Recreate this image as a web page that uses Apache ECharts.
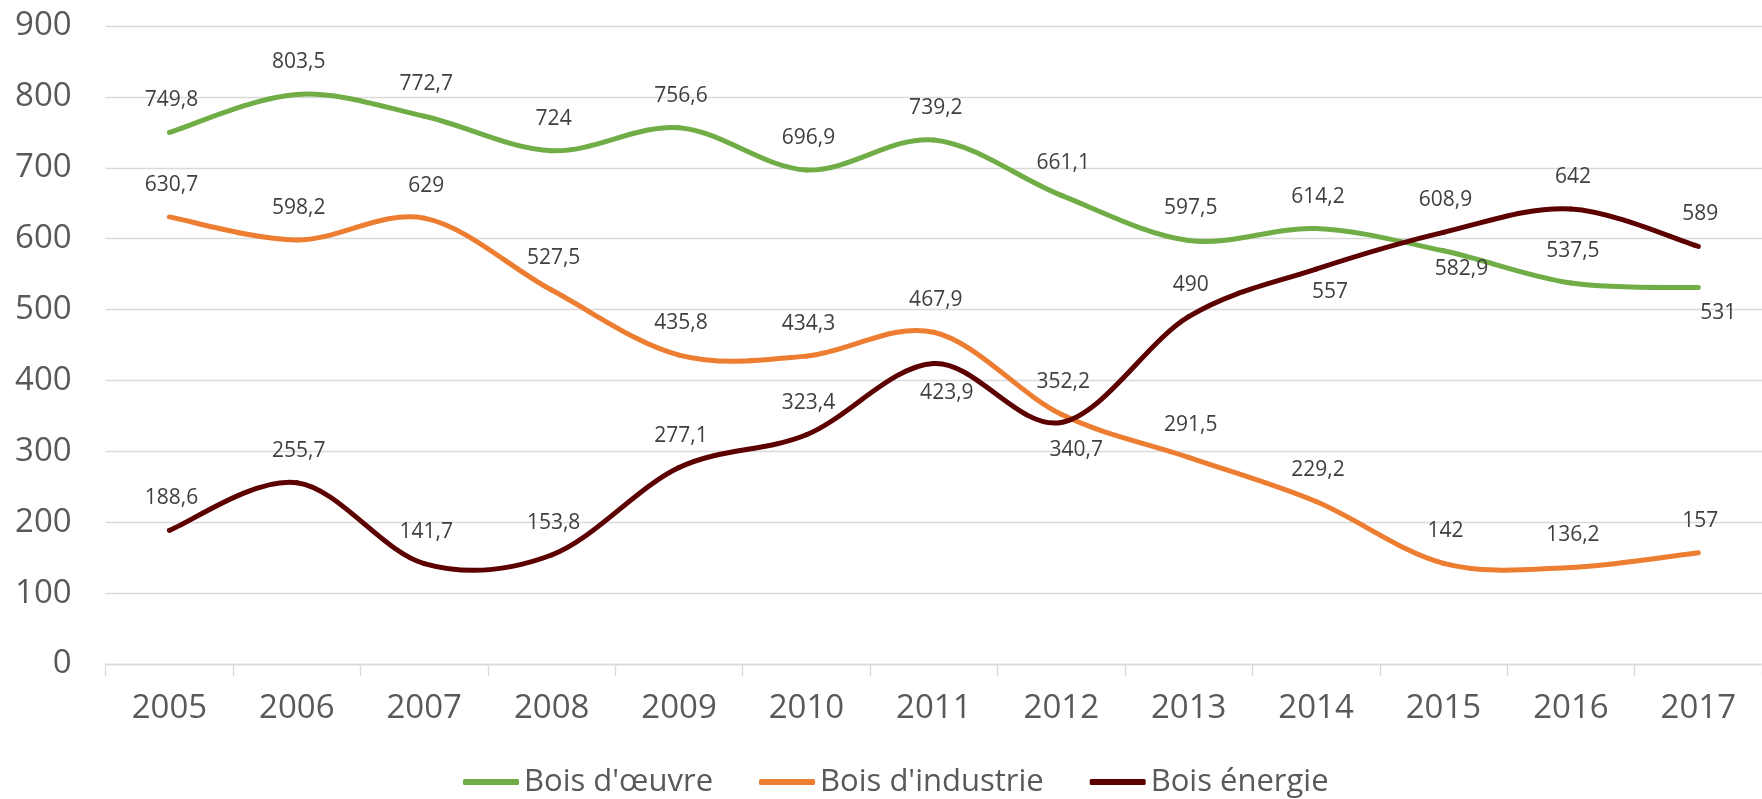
<!DOCTYPE html>
<html>
<head>
<meta charset="utf-8">
<script src="https://cdn.jsdelivr.net/npm/echarts@6/dist/echarts.min.js"></script>
<style>
  html, body { margin: 0; padding: 0; background: #fff; }
  #chart { width: 1762px; height: 799px; }
</style>
</head>
<body>
<div id="chart"></div>
<script>
// data
const years = ['2005', '2006', '2007', '2008', '2009', '2010', '2011', '2012', '2013', '2014', '2015', '2016', '2017']
const boisOeuvre = [749.8, 803.5, 772.7, 724, 756.6, 696.9, 739.2, 661.1, 597.5, 614.2, 582.9, 537.5, 531]
const boisIndustrie = [630.7, 598.2, 629, 527.5, 435.8, 434.3, 467.9, 352.2, 291.5, 229.2, 142, 136.2, 157]
const boisEnergie = [188.6, 255.7, 141.7, 153.8, 277.1, 323.4, 423.9, 340.7, 490, 557, 608.9, 642, 589]

// labels that sit under the line instead of above it (index -> offset in px)
const labelBelowOeuvre = { 10: [18, 18], 12: [20, 25] }
const labelBelowEnergie = { 6: [13, 30], 7: [15, 28], 9: [14, 23] }

const fmt = v => String(v).replace('.', ',')

const chart = echarts.init(document.getElementById('chart'))

// Excel-like smoothed line: one bezier per segment, control points from neighbours (1/6)
function makeSeries(name, color, values, below) {
  const n = values.length
  return {
    name: name,
    type: 'custom',
    coordinateSystem: 'cartesian2d',
    itemStyle: { color: color },
    encode: { x: 0, y: 1 },
    data: values.map((v, i) => [i, v]),
    animation: false,
    renderItem(params, api) {
      const i = params.dataIndex
      const pt = k => {
        const j = Math.max(0, Math.min(n - 1, k))
        return api.coord([j, values[j]])
      }
      const children = []
      if (i < n - 1) {
        const p0 = pt(i - 1), p1 = pt(i), p2 = pt(i + 1), p3 = pt(i + 2)
        children.push({
          type: 'bezierCurve',
          shape: {
            x1: p1[0], y1: p1[1],
            x2: p2[0], y2: p2[1],
            cpx1: p1[0] + (p2[0] - p0[0]) / 6, cpy1: p1[1] + (p2[1] - p0[1]) / 6,
            cpx2: p2[0] - (p3[0] - p1[0]) / 6, cpy2: p2[1] - (p3[1] - p1[1]) / 6
          },
          style: { stroke: color, lineWidth: 5, fill: null, lineCap: 'round' }
        })
      }
      const p = pt(i)
      const off = (below && below[i]) ? below[i] : [2, -32]
      children.push({
        type: 'text',
        x: p[0] + off[0],
        y: p[1] + off[1],
        z2: 100,
        style: {
          text: fmt(values[i]),
          fill: '#404040',
          fontSize: 21,
          fontFamily: 'Open Sans',
          align: 'center',
          verticalAlign: 'middle'
        }
      })
      return { type: 'group', children: children }
    }
  }
}

chart.setOption({
  textStyle: { fontFamily: 'Open Sans' },
  grid: {
    left: 105.7,
    right: 0,
    top: 26,
    bottom: 135
  },
  legend: {
    left: 458,
    top: 759,
    itemWidth: 56,
    itemHeight: 6,
    itemGap: 46,
    icon: 'roundRect',
    textStyle: { fontFamily: 'Open Sans', fontSize: 31, color: '#595959', lineHeight: 36 },
    data: ["Bois d'œuvre", "Bois d'industrie", 'Bois énergie']
  },
  xAxis: {
    type: 'category',
    data: years,
    boundaryGap: true,
    axisLine: { lineStyle: { color: '#d9d9d9', width: 1.3 } },
    axisTick: { show: true, length: 12, lineStyle: { color: '#d9d9d9', width: 1.3 } },
    axisLabel: { fontFamily: 'Open Sans', fontSize: 33, color: '#595959', margin: 28 }
  },
  yAxis: {
    type: 'value',
    min: 0,
    max: 900,
    interval: 100,
    axisLine: { show: false },
    axisTick: { show: false },
    splitLine: { lineStyle: { color: '#d9d9d9', width: 1.3 } },
    axisLabel: { fontFamily: 'Open Sans', fontSize: 33, color: '#595959', margin: 34 }
  },
  series: [
    makeSeries("Bois d'œuvre", '#70ad47', boisOeuvre, labelBelowOeuvre),
    makeSeries("Bois d'industrie", '#ed7d31', boisIndustrie, null),
    makeSeries('Bois énergie', '#5c0000', boisEnergie, labelBelowEnergie)
  ]
})
</script>
</body>
</html>
